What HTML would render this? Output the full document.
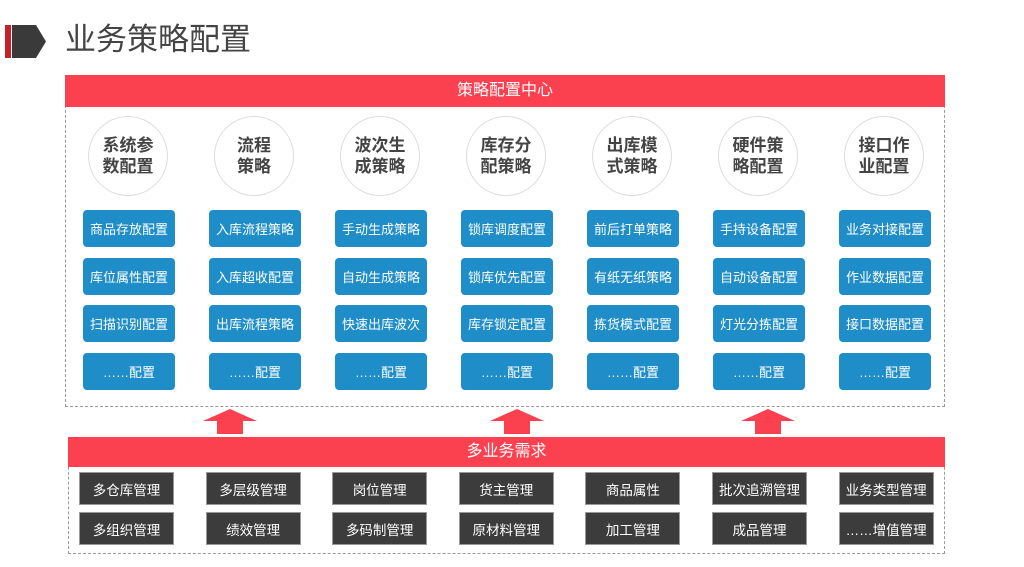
<!DOCTYPE html>
<html><head><meta charset="utf-8"><style>
body{margin:0;width:1024px;height:567px;background:#fff;font-family:"Liberation Sans","Noto Sans CJK SC",sans-serif;position:relative;overflow:hidden}
.a{position:absolute}
.title{left:65px;top:20px;font-size:31px;color:#444;line-height:40px}
.box{border:1px dashed #999;box-sizing:border-box}
.hdr{background:#fb404f;color:#fff;font-size:16px;text-align:center}
.c{width:80px;height:80px;border-radius:50%;border:1px solid #ddd;box-sizing:border-box;display:flex;align-items:center;justify-content:center;text-align:center;font-weight:bold;font-size:17px;line-height:21px;color:#444;background:#fff}
.b{width:92px;height:37px;background:#1f8dc8;border-radius:4px;color:#fff;font-size:13px;display:flex;align-items:center;justify-content:center}
.d{width:95px;height:33px;background:#3c3c3c;border:1px solid #999;box-sizing:border-box;color:#fff;font-size:13.5px;display:flex;align-items:center;justify-content:center}
</style></head><body>
<div class="a" style="left:5px;top:25px;width:6px;height:33px;background:#c8202a"></div>
<svg class="a" style="left:12px;top:25px" width="36" height="34"><polygon points="0,0 24,0 34,16.5 24,33 0,33" fill="#3a3a3a"/></svg>
<div class="a title">业务策略配置</div>

<div class="a box" style="left:65px;top:75px;width:880px;height:332px"></div>
<div class="a hdr" style="left:65px;top:75px;width:880px;height:32px;line-height:32px">策略配置中心</div>

<div class="a box" style="left:68px;top:437px;width:877px;height:117px"></div>
<div class="a hdr" style="left:68px;top:437px;width:877px;height:30px;line-height:30px">多业务需求</div>

<div id="g"></div>
<script>
var circ=["系统参<br>数配置","流程<br>策略","波次生<br>成策略","库存分<br>配策略","出库模<br>式策略","硬件策<br>略配置","接口作<br>业配置"];
var cols=[["商品存放配置","库位属性配置","扫描识别配置"],["入库流程策略","入库超收配置","出库流程策略"],["手动生成策略","自动生成策略","快速出库波次"],["锁库调度配置","锁库优先配置","库存锁定配置"],["前后打单策略","有纸无纸策略","拣货模式配置"],["手持设备配置","自动设备配置","灯光分拣配置"],["业务对接配置","作业数据配置","接口数据配置"]];
var dk=[["多仓库管理","多组织管理"],["多层级管理","绩效管理"],["岗位管理","多码制管理"],["货主管理","原材料管理"],["商品属性","加工管理"],["批次追溯管理","成品管理"],["业务类型管理","……增值管理"]];
var h="";
for(var i=0;i<7;i++){
 var x=83+i*126;
 h+='<div class="a c" style="left:'+(x+5)+'px;top:116px">'+circ[i]+'</div>';
 var ys=[210,258,305,353];
 for(var j=0;j<4;j++){h+='<div class="a b" style="left:'+x+'px;top:'+ys[j]+'px">'+(j<3?cols[i][j]:'……配置')+'</div>';}
 var dx=79+i*126.6;
 h+='<div class="a d" style="left:'+dx+'px;top:472px">'+dk[i][0]+'</div>';
 h+='<div class="a d" style="left:'+dx+'px;top:512px">'+dk[i][1]+'</div>';
}
[230,517,768].forEach(function(cx){h+='<svg class="a" style="left:'+(cx-27)+'px;top:409px" width="54" height="25"><polygon points="27,0 54,12 40,12 40,25 14,25 14,12 0,12" fill="#fb404f"/></svg>';});
document.getElementById("g").innerHTML=h;
</script>
</body></html>
